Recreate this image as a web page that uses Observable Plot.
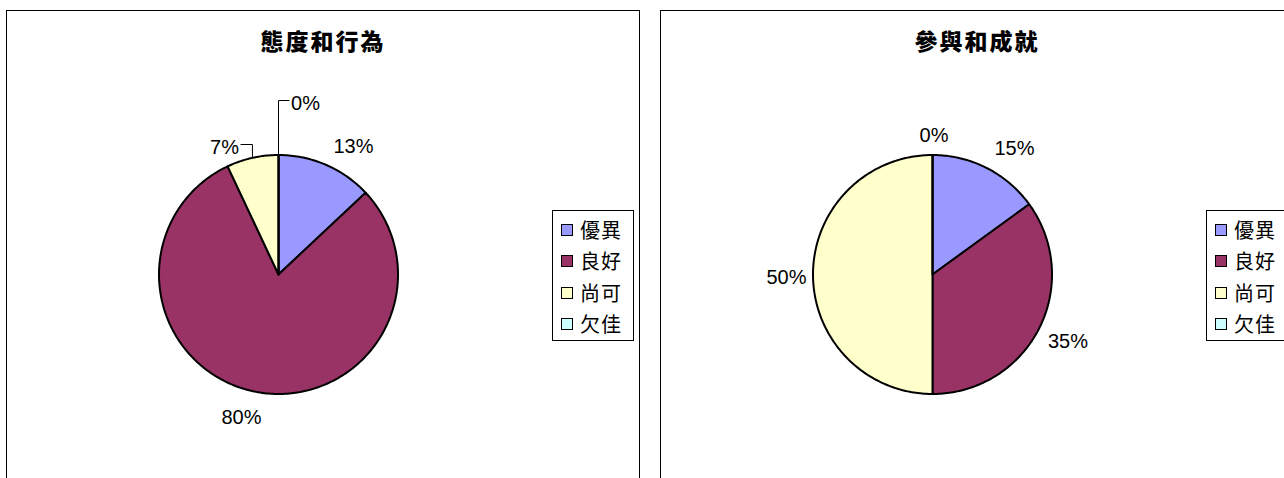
<!DOCTYPE html>
<html>
<head>
<meta charset="utf-8">
<script src="https://cdn.jsdelivr.net/npm/d3@7"></script>
<script src="https://cdn.jsdelivr.net/npm/@observablehq/plot@0.6"></script>
<style>
  html, body { margin: 0; padding: 0; background: #fff; }
  body { width: 1284px; height: 478px; overflow: hidden; position: relative; }
  .panel { position: absolute; top: 10px; width: 634px; height: 480px; box-sizing: border-box;
           border: 1px solid #000; border-bottom: none; background: #fff; }
  .panel svg { position: absolute; left: 0; top: 0; }
  .title { position: absolute; left: 0; width: 632px; top: 16px; text-align: center;
           font-family: "Noto Sans CJK TC", sans-serif; font-weight: 900; font-size: 23px;
           letter-spacing: 2px; line-height: 26px; color: #000; }
  .legend { position: absolute; left: 545px; top: 199px; width: 82px; height: 131px; box-sizing: border-box;
            border: 1px solid #000; background: #fff; }
  .item { position: absolute; left: 0; height: 24px; line-height: 24px;
          font-family: "Noto Sans CJK TC", sans-serif; font-size: 20px; letter-spacing: 1px; color: #000; white-space: nowrap; }
  .sw { position: absolute; left: 8px; top: 6px; width: 12px; height: 12px; box-sizing: border-box; border: 1.5px solid #000; }
  .lt { position: absolute; left: 27px; top: 0; }
</style>
</head>
<body>
<script>
// ---- data ----
const categories = ["優異", "良好", "尚可", "欠佳"];
const colors = ["#9999FF", "#993366", "#FFFFCC", "#CCFFFF"];
const titles = ["態度和行為", "參與和成就"];
const attitudeValues = [13, 80, 7, 0];
const participationValues = [15, 35, 50, 0];

// ---- layout (label anchors, px offsets from pie centre) ----
const attitudeLabelOffsets = [[75, -128], [-37, 143], [-54, -127], [27, -171]];
const participationLabelOffsets = [[82, -126], [135.5, 67], [-146, 3], [1.5, -139]];
const attitudeLeaders = [false, false, true, true];
const participationLeaders = [false, false, false, false];

const W = 632, H = 468, CX = 271, CY = 263, R = 119.5;
const labelFont = "20px 'Liberation Sans', Arial, sans-serif";
const ctx = document.createElement("canvas").getContext("2d");
ctx.font = labelFont;

function pieChart(values, offsets, leaders) {
  const data = categories.map((c, i) => ({cat: c, value: values[i]}));
  const arcs = d3.pie().sort(null).value(d => d.value)(data);
  const pts = [];
  arcs.forEach(a => {
    const k = a.data.cat;
    pts.push({k, x: 0, y: 0});
    const n = Math.max(1, Math.ceil((a.endAngle - a.startAngle) / (Math.PI / 180)));
    for (let i = 0; i <= n; i++) {
      const t = a.startAngle + (a.endAngle - a.startAngle) * i / n;
      pts.push({k, x: Math.sin(t), y: Math.cos(t)});
    }
    pts.push({k, x: 0, y: 0});
  });
  const labels = arcs.map((a, i) => ({
    text: Math.round(a.data.value) + "%",
    x: offsets[i][0] / R,
    y: -offsets[i][1] / R
  }));
  const leaderPts = [];
  arcs.forEach((a, i) => {
    if (!leaders[i]) return;
    const mid = (a.startAngle + a.endAngle) / 2;
    const ex = Math.sin(mid), ey = Math.cos(mid);
    const L = labels[i];
    const hw = ctx.measureText(L.text).width / 2 / R;
    const gap = 2 / R;
    const sx = ex < L.x ? L.x - hw - gap : L.x + hw + gap;
    const ly = L.y + 3 / R;
    leaderPts.push({k: i, x: sx, y: ly}, {k: i, x: ex, y: ly}, {k: i, x: ex, y: ey});
  });
  return Plot.plot({
    width: W, height: H, margin: 0,
    style: {background: "transparent", overflow: "visible"},
    x: {domain: [-CX / R, (W - CX) / R], axis: null},
    y: {domain: [-(H - CY) / R, CY / R], axis: null},
    color: {domain: categories, range: colors},
    marks: [
      Plot.line(pts, {x: "x", y: "y", z: "k", fill: "k", stroke: "#000", strokeWidth: 2, strokeLinejoin: "round"}),
      Plot.line(leaderPts, {x: "x", y: "y", z: "k", stroke: "#000", strokeWidth: 1}),
      Plot.text(labels, {x: "x", y: "y", text: "text", fontSize: 20, fontFamily: "'Liberation Sans', Arial, sans-serif", fill: "#000"})
    ]
  });
}

function panel(left, title, values, offsets, leaders) {
  const div = document.createElement("div");
  div.className = "panel";
  div.style.left = left + "px";
  div.appendChild(pieChart(values, offsets, leaders));
  const t = document.createElement("div");
  t.className = "title";
  t.textContent = title;
  div.appendChild(t);
  const lg = document.createElement("div");
  lg.className = "legend";
  const rowCenters = [19, 50, 82, 113];
  categories.forEach((c, i) => {
    const it = document.createElement("div");
    it.className = "item";
    it.style.top = (rowCenters[i] - 12) + "px";
    const sw = document.createElement("div");
    sw.className = "sw";
    sw.style.background = colors[i];
    const lt = document.createElement("div");
    lt.className = "lt";
    lt.textContent = c;
    it.appendChild(sw);
    it.appendChild(lt);
    lg.appendChild(it);
  });
  div.appendChild(lg);
  document.body.appendChild(div);
}

panel(6, titles[0], attitudeValues, attitudeLabelOffsets, attitudeLeaders);
panel(660, titles[1], participationValues, participationLabelOffsets, participationLeaders);
</script>
</body>
</html>
